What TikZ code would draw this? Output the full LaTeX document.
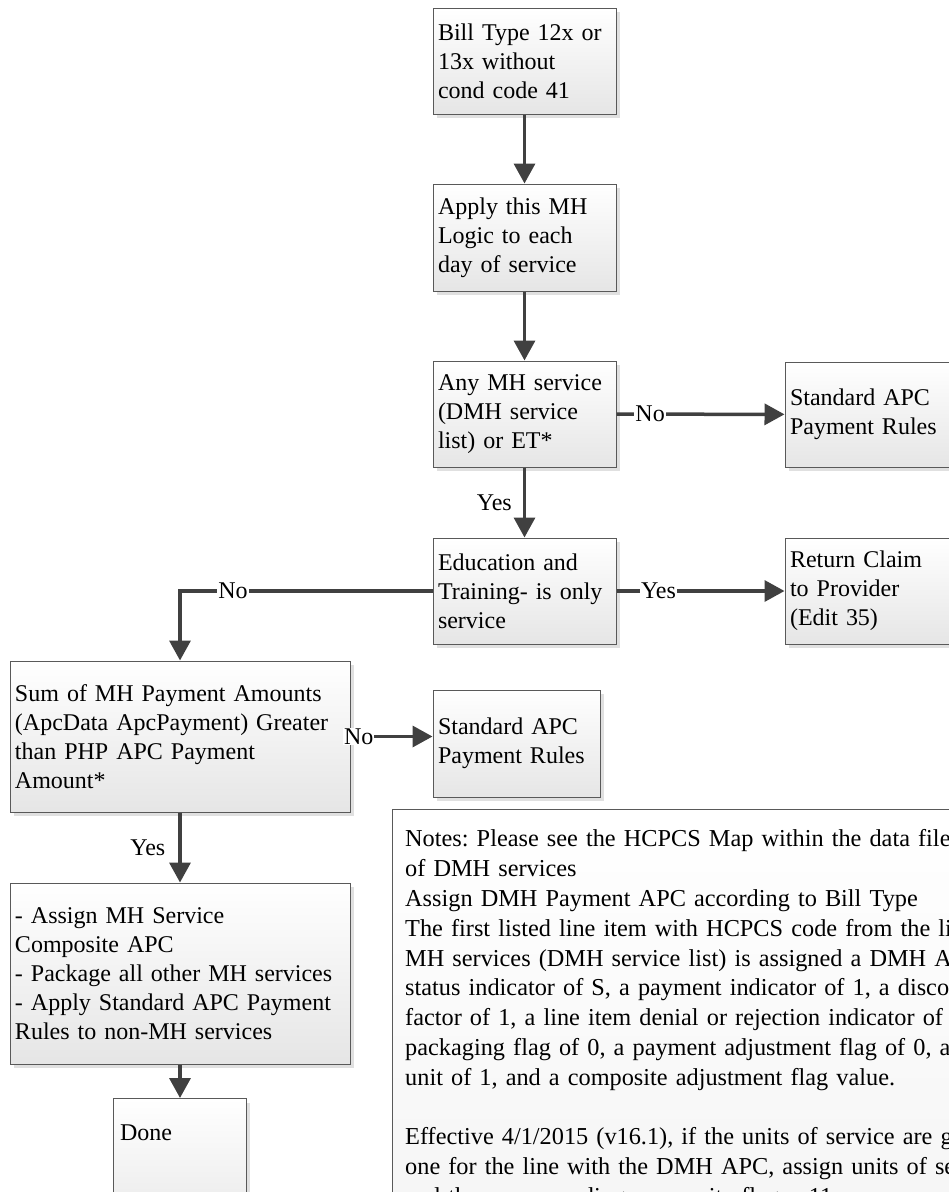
\documentclass[tikz,border=0pt]{standalone}
\usepackage{fontspec}
\setmainfont{Liberation Serif}
\usetikzlibrary{arrows.meta,shadows}
\frenchspacing
\tikzset{
  box/.style={rectangle, draw=black!65, line width=1pt, top color=white, bottom color=black!10,
    drop shadow={shadow xshift=4pt, shadow yshift=-4pt, fill=black!12, opacity=1},
    align=left, inner xsep=5pt, inner ysep=0pt, font=\fontsize{24}{29}\selectfont},
  arr/.style={draw=black!75, line width=3.5pt, -{Triangle[length=20pt,width=21pt]}},
  lbl/.style={fill=white, inner sep=1pt, font=\fontsize{24}{29}\selectfont, text=black},
  notebox/.style={rectangle, draw=black!65, line width=1pt, top color=white, bottom color=black!4, inner sep=0pt},
  notetext/.style={align=left, inner sep=0pt, text width=640pt, font=\fontsize{24.3}{29.8}\selectfont},
}
\begin{document}
\begin{tikzpicture}[x=1pt,y=-1pt]
\useasboundingbox (0,0) rectangle (949,1192);
\clip (0,0) rectangle (949,1192);

\node[box, minimum width=183pt, minimum height=106pt, text width=173pt] (b1) at (524.5,61)
  {Bill Type 12x or\\13x without\\cond code 41};
\node[box, minimum width=183pt, minimum height=107pt, text width=173pt] (b2) at (524.5,237.5)
  {Apply this MH\\Logic to each\\day of service};
\node[box, minimum width=183pt, minimum height=106pt, text width=173pt] (b3) at (524.5,414)
  {Any MH service\\(DMH service\\list) or ET*};
\node[box, minimum width=220pt, minimum height=105pt, text width=210pt] (s1) at (895,414.5)
  {Standard APC\\Payment Rules};
\node[box, minimum width=183pt, minimum height=106pt, text width=173pt] (b4) at (524.5,591)
  {Education and\\Training- is only\\service};
\node[box, minimum width=220pt, minimum height=106pt, text width=210pt] (rc) at (895,591)
  {Return Claim\\to Provider\\(Edit 35)};
\node[box, minimum width=340pt, minimum height=151pt, text width=330pt] (sum) at (180,736.5)
  {Sum of MH Payment Amounts\\(ApcData ApcPayment) Greater\\than PHP APC Payment\\Amount*};
\node[box, minimum width=167pt, minimum height=107pt, text width=157pt] (s2) at (516.5,743.5)
  {Standard APC\\Payment Rules};
\node[box, minimum width=340pt, minimum height=181pt, text width=330pt] (assign) at (180,973.5)
  {- Assign MH Service\\Composite APC\\- Package all other MH services\\- Apply Standard APC Payment\\Rules to non-MH services};
\node[box, anchor=north, minimum width=133pt, text width=119pt, inner xsep=7pt, inner ysep=6pt,
  text height=36pt, text depth=100pt] (done) at (179.5,1098) {Done};

\node[notebox, anchor=north west, minimum width=620pt, minimum height=420pt] (notes) at (392,809) {};
\node[notetext, anchor=north west] (notestext) at (405,829.5)
  {Notes: Please see the HCPCS Map within the data file\\
   of DMH services\\
   Assign DMH Payment APC according to Bill Type\\
   The first listed line item with HCPCS code from the list\\
   MH services (DMH service list) is assigned a DMH APC\\
   status indicator of S, a payment indicator of 1, a discount\\
   factor of 1, a line item denial or rejection indicator of 0,\\
   packaging flag of 0, a payment adjustment flag of 0, a\\
   unit of 1, and a composite adjustment flag value.\\[29.8pt]
   Effective 4/1/2015 (v16.1), if the units of service are greater\\
   one for the line with the DMH APC, assign units of service\\
   and the corresponding composite flag = 11};

\draw[arr] (b1) -- (b2);
\draw[arr] (b2) -- (b3);
\draw[arr] (b3) -- node[lbl, pos=0.2] {No} (s1);
\draw[arr] (b3) -- node[lbl, pos=0.5, anchor=east, xshift=-10pt, fill=none] {Yes} (b4);
\draw[arr] (b4) -- node[lbl, pos=0.25] {Yes} (rc);
\draw[arr] (b4.west) -- node[lbl, pos=0.79] {No} (sum.north |- b4.west) -- (sum.north);
\draw[arr] (sum.east) -- node[lbl, pos=0.1] {No} (sum.east -| s2.west);
\draw[arr] (sum.south) -- node[lbl, pos=0.5, anchor=east, xshift=-12pt, fill=none] {Yes} (assign.north);
\draw[arr] (assign.south) -- (assign.south |- done.north);
\end{tikzpicture}
\end{document}
